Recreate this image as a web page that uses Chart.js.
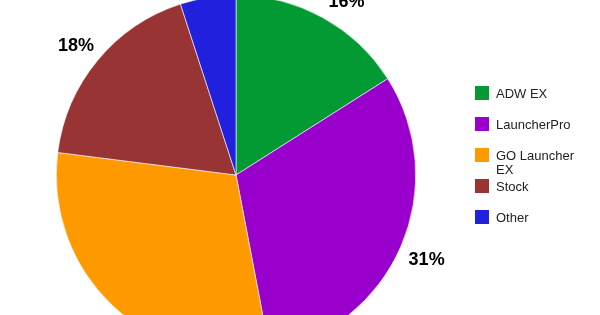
<!DOCTYPE html>
<html>
<head>
<meta charset="utf-8">
<script src="https://cdn.jsdelivr.net/npm/chart.js@4/dist/chart.umd.min.js"></script>
<style>
  html, body { margin: 0; padding: 0; background: #fff; overflow: hidden; }
  #wrap { position: relative; width: 600px; height: 315px; overflow: hidden; }
  #chart { position: absolute; left: 0; top: -5px; }
</style>
</head>
<body>
<div id="wrap"><canvas id="chart" width="600" height="360"></canvas></div>
<script>
// dados (percentuais)
const categorias = ['ADW EX', 'LauncherPro', 'GO Launcher EX', 'Stock', 'Other'];
const valores = [16, 31, 30, 18, 5];
const cores = ['#039933', '#9900cc', '#ff9900', '#993434', '#2020dd'];
// rótulos da legenda (com quebra de linha como no original)
const legendaTextos = [['ADW EX'], ['LauncherPro'], ['GO Launcher', 'EX'], ['Stock'], ['Other']];

const OFFSET_Y = 5; // canvas começa 5px acima da página

// rótulos de percentual fora da pizza
const rotulosPlugin = {
  id: 'rotulos',
  afterDatasetsDraw(chart) {
    const ctx = chart.ctx;
    const meta = chart.getDatasetMeta(0);
    const total = valores.reduce((a, b) => a + b, 0);
    ctx.save();
    ctx.font = 'bold 18px "Liberation Sans", Arial, sans-serif';
    ctx.fillStyle = '#000';
    ctx.textAlign = 'center';
    ctx.textBaseline = 'middle';
    meta.data.forEach((arc, i) => {
      const pct = Math.round(valores[i] / total * 100);
      if (pct < 10) return; // fatia pequena fica sem rótulo
      const mid = (arc.startAngle + arc.endAngle) / 2;
      const dist = arc.outerRadius + 28;
      let x = arc.x + Math.cos(mid) * dist;
      let y = arc.y + Math.sin(mid) * dist + 3;
      const minY = 2 + OFFSET_Y;
      if (y < minY) { x += (minY - y) * 1.75; y = minY; }
      ctx.fillText(pct + '%', x, y);
    });
    ctx.restore();
  }
};

// legenda à direita
const legendaPlugin = {
  id: 'legenda',
  afterDraw(chart) {
    const ctx = chart.ctx;
    ctx.save();
    ctx.font = '13px "Liberation Sans", Arial, sans-serif';
    ctx.textBaseline = 'middle';
    ctx.textAlign = 'left';
    categorias.forEach((c, i) => {
      const cy = 93 + i * 31 + OFFSET_Y;
      ctx.fillStyle = cores[i];
      ctx.fillRect(475, cy - 7, 14, 14);
      ctx.fillStyle = '#222';
      legendaTextos[i].forEach((linha, j) => {
        ctx.fillText(linha, 496, cy + 1 + j * 14);
      });
    });
    ctx.restore();
  }
};

new Chart(document.getElementById('chart'), {
  type: 'pie',
  data: {
    labels: categorias,
    datasets: [{
      data: valores,
      backgroundColor: cores,
      borderColor: '#ffffff',
      borderWidth: 0.6
    }]
  },
  options: {
    responsive: false,
    animation: false,
    layout: { padding: { left: 56, right: 184, top: 0, bottom: 0 } },
    plugins: {
      legend: { display: false },
      tooltip: { enabled: false }
    }
  },
  plugins: [rotulosPlugin, legendaPlugin]
});
</script>
</body>
</html>
